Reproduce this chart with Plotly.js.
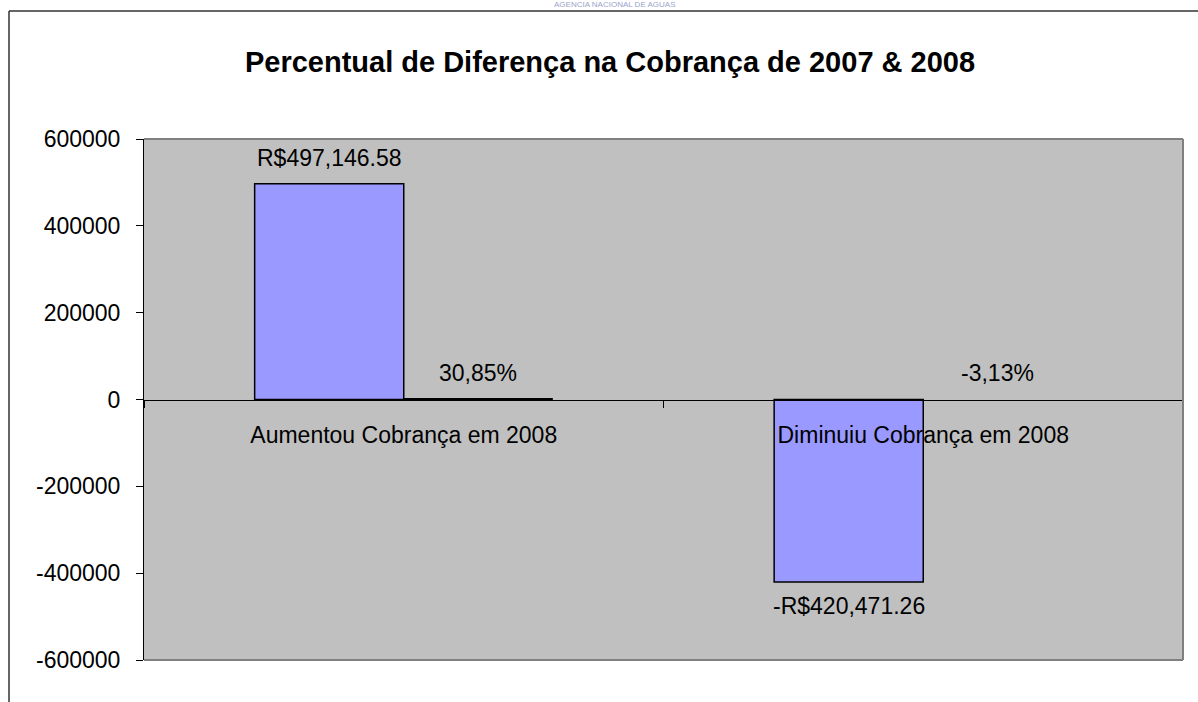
<!DOCTYPE html>
<html>
<head>
<meta charset="utf-8">
<script src="https://cdn.plot.ly/plotly-3.0.1.min.js"></script>
<style>html,body{margin:0;padding:0;background:#fff;}#chart{width:1198px;height:702px;}</style>
</head>
<body>
<div id="chart"></div>
<script>
// ---- data ----
var categories = ["Aumentou Cobrança em 2008", "Diminuiu Cobrança em 2008"];
var valoresReais = [497146.58, -420471.26];      // diferença em R$
var valoresPercent = [0.3085, -0.0313];          // percentual de diferença
var yTickVals = [-600000, -400000, -200000, 0, 200000, 400000, 600000];
var yTickText = ["-600000", "-400000", "-200000", "0", "200000", "400000", "600000"];
var chartTitle = "Percentual de Diferença na Cobrança de 2007 & 2008";
var logoText = "AGENCIA NACIONAL DE AGUAS";

// ---- formatting ----
function fmtReal(v) {
  var s = Math.abs(v).toLocaleString('en-US', {minimumFractionDigits: 2, maximumFractionDigits: 2});
  return (v < 0 ? '-' : '') + 'R$' + s;
}
function fmtPct(v) {
  return (v * 100).toFixed(2).replace('.', ',') + '%';
}

var FONT = '"Liberation Sans", Arial, sans-serif';
var BARGAP = 0.426;
var barW = (1 - BARGAP) / 2;

// plot area pixel geometry (for paper-referenced decorations)
var L = 144, R = 15, T = 139, B = 42, W = 1198, H = 702;
var pw = W - L - R, ph = H - T - B;
function px(x) { return (x - L) / pw; }
function py(y) { return (H - B - y) / ph; }

var traces = [
  {
    type: 'bar', x: categories, y: valoresReais,
    marker: {color: '#9999FF', line: {color: '#000000', width: 1.5}},
    hoverinfo: 'skip'
  },
  {
    type: 'bar', x: categories, y: valoresPercent,
    marker: {color: '#993366', line: {color: '#000000', width: [3, 0]}},
    hoverinfo: 'skip'
  }
];

var annotations = [];
categories.forEach(function (c, i) {
  var v = valoresReais[i];
  annotations.push({
    xref: 'x', yref: 'y', x: i - barW / 2, y: v,
    text: fmtReal(v), showarrow: false,
    yanchor: 'middle', yshift: v >= 0 ? 26 : -24,
    font: {family: FONT, size: 23, color: '#000'}
  });
  var p = valoresPercent[i];
  annotations.push({
    xref: 'x', yref: 'y', x: i + barW / 2, y: p,
    text: fmtPct(p), showarrow: false,
    yanchor: 'middle', yshift: 27,
    font: {family: FONT, size: 23, color: '#000'}
  });
});
annotations.push({
  xref: 'paper', yref: 'paper', x: px(615), y: py(5),
  text: logoText, showarrow: false, xanchor: 'center', yanchor: 'middle',
  font: {family: FONT, size: 8, color: '#9aa3cc'}
});

var shapes = [
  // plot area border (top, right, bottom)
  {type: 'line', xref: 'paper', yref: 'paper', x0: 0, x1: 1, y0: 1, y1: 1, line: {color: '#808080', width: 2}, layer: 'above'},
  {type: 'line', xref: 'paper', yref: 'paper', x0: 1, x1: 1, y0: 0, y1: 1, line: {color: '#808080', width: 2}, layer: 'above'},
  {type: 'line', xref: 'paper', yref: 'paper', x0: 0, x1: 1, y0: 0, y1: 0, line: {color: '#808080', width: 2}, layer: 'above'},
  // outer chart frame (top and left)
  {type: 'line', xref: 'paper', yref: 'paper', x0: px(9), x1: px(1198), y0: py(11), y1: py(11), line: {color: '#333333', width: 1.5}},
  {type: 'line', xref: 'paper', yref: 'paper', x0: px(9), x1: px(9), y0: py(11), y1: py(702), line: {color: '#333333', width: 1.5}}
];

var layout = {
  width: W, height: H,
  margin: {l: L, r: R, t: T, b: B, pad: 0},
  paper_bgcolor: '#ffffff',
  plot_bgcolor: '#C0C0C0',
  font: {family: FONT, size: 23, color: '#000'},
  showlegend: false,
  hovermode: false,
  barmode: 'group',
  bargap: BARGAP,
  bargroupgap: 0,
  title: {
    text: chartTitle,
    font: {family: FONT, size: 29, color: '#000', weight: 'bold'},
    xref: 'container', x: 610 / W, xanchor: 'center',
    yref: 'container', y: 1 - 62 / H, yanchor: 'middle'
  },
  xaxis: {
    type: 'category',
    anchor: 'free', position: 0.5,
    showline: true, linecolor: '#000000', linewidth: 1,
    ticks: 'outside', ticklen: 7, tickcolor: '#000000', tickwidth: 1,
    tickson: 'boundaries',
    ticklabelstandoff: 15,
    showgrid: false, zeroline: false,
    tickfont: {family: FONT, size: 23, color: '#000'},
    fixedrange: true
  },
  yaxis: {
    range: [-600000, 600000],
    tickvals: yTickVals, ticktext: yTickText,
    showline: true, linecolor: '#000000', linewidth: 1,
    ticks: 'outside', ticklen: 7, tickcolor: '#000000', tickwidth: 1,
    ticklabelstandoff: 11,
    showgrid: false, zeroline: false,
    tickfont: {family: FONT, size: 23, color: '#000'},
    fixedrange: true
  },
  annotations: annotations,
  shapes: shapes
};

Plotly.newPlot('chart', traces, layout, {displayModeBar: false, staticPlot: true});
</script>
</body>
</html>
